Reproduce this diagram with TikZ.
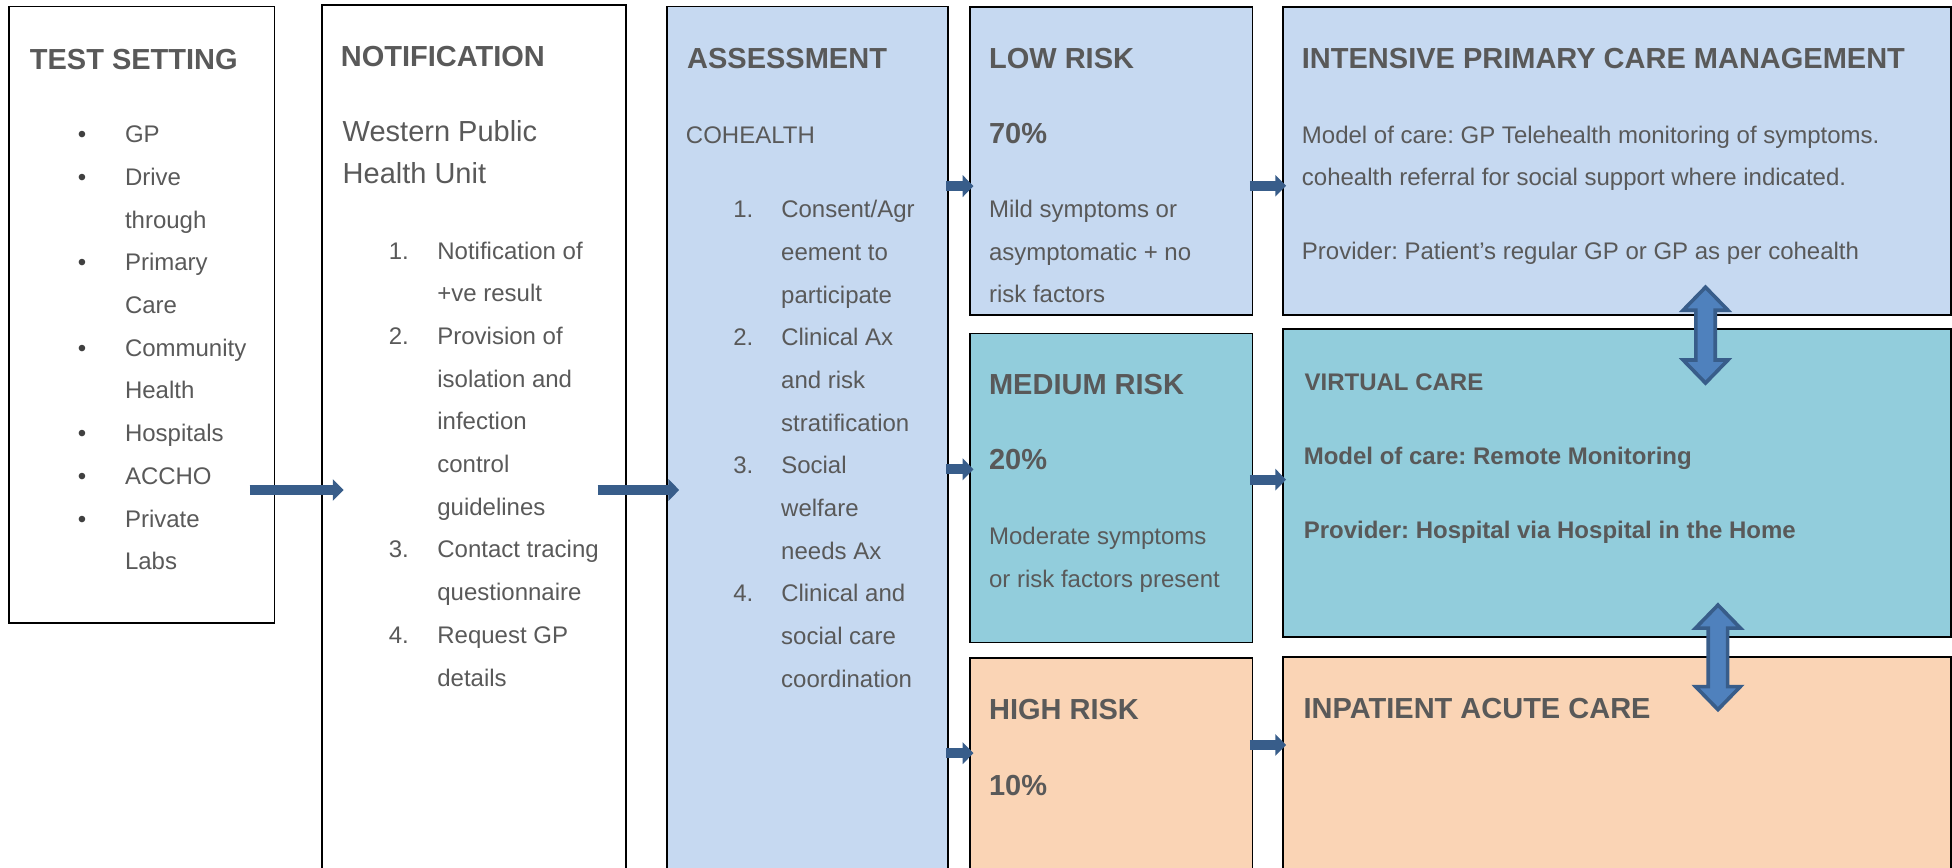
\documentclass[tikz,border=0pt]{standalone}
\usepackage{fontspec}
\setmainfont{Liberation Sans}
\usetikzlibrary{arrows.meta,fit}
\frenchspacing

\definecolor{paleblue}{HTML}{C6D9F1}
\definecolor{teal}{HTML}{92CDDC}
\definecolor{peach}{HTML}{FAD4B5}
\definecolor{txtgrey}{HTML}{595959}
\definecolor{bulletgrey}{HTML}{404040}
\definecolor{arrowblue}{HTML}{385D8A}
\definecolor{arrowfill}{HTML}{4F81BD}

% vertical two-way block arrow: #1 = x, #2 = y of centre, #3 = half length
\newcommand\DblBlock[3]{%
  \draw[dblarrow] (#1,#2-#3) -- (#1+18,#2-#3+18.5) -- (#1+7.8,#2-#3+18.5)
    -- (#1+7.8,#2+#3-18.5) -- (#1+18,#2+#3-18.5) -- (#1,#2+#3)
    -- (#1-18,#2+#3-18.5) -- (#1-7.8,#2+#3-18.5) -- (#1-7.8,#2-#3+18.5)
    -- (#1-18,#2-#3+18.5) -- cycle;}

\begin{document}
\begin{tikzpicture}[x=0.6225pt,y=-0.6225pt,
  box/.style={draw=black,line width=0.85pt,inner sep=0pt,outer sep=0pt},
  lbl/.style={anchor=base west,inner sep=0pt,outer sep=0pt,text=txtgrey},
  head/.style={lbl,font=\fontsize{14.5}{21.35}\selectfont\bfseries},
  body/.style={lbl,font=\fontsize{12}{21.35}\selectfont},
  bodybig/.style={lbl,font=\fontsize{14.5}{21.35}\selectfont},
  subhead/.style={lbl,font=\fontsize{12}{21.35}\selectfont\bfseries},
  flow/.style={draw=arrowblue,line width=5pt,-{Triangle[width=10.6pt,length=5.4pt]}},
  dblarrow/.style={draw=arrowblue,fill=arrowfill,line width=1.8pt,line join=miter}
]
\useasboundingbox (0,0) rectangle (1568,697);
\clip (0,0) rectangle (1568,697);

% ---- boxes ----
\node[box,fit={(7.5,5.3) (220.4,500.4)}] (ts) {};
\node[box,fit={(258.6,4) (503,720)}] (nt) {};
\node[box,fill=paleblue,fit={(535.5,5.3) (761.6,720)}] (as) {};
\node[box,fill=paleblue,fit={(779,5.4) (1006,253)}] (low) {};
\node[box,fill=teal,fit={(779,268) (1006,516)}] (med) {};
\node[box,fill=peach,fit={(779,528.7) (1006,720)}] (high) {};
\node[box,fill=paleblue,fit={(1030.5,5.4) (1567.3,253)}] (int) {};
\node[box,fill=teal,fit={(1030.5,264.3) (1567.3,511.8)}] (vir) {};
\node[box,fill=peach,fit={(1030.5,527.5) (1567.3,720)}] (inp) {};

% ---- test setting ----
\node[head] (tsh) at (24,55.6) {TEST SETTING};
\node[body] (tsl) at (62.5,114.7) {\begin{tabular}[t]{@{}p{23.6pt}@{}l@{}}
\textcolor{bulletgrey}{•}&GP\\
\textcolor{bulletgrey}{•}&Drive\\
&through\\
\textcolor{bulletgrey}{•}&Primary\\
&Care\\
\textcolor{bulletgrey}{•}&Community\\
&Health\\
\textcolor{bulletgrey}{•}&Hospitals\\
\textcolor{bulletgrey}{•}&ACCHO\\
\textcolor{bulletgrey}{•}&Private\\
&Labs
\end{tabular}};

% ---- notification ----
\node[head] (nth) at (273.8,53.4) {NOTIFICATION};
\node[bodybig] (ntu) at (275.3,113.4) {\begin{tabular}[t]{@{}l@{}}
Western Public\\ Health Unit\end{tabular}};
\node[body] (ntl) at (312.3,208.1) {\begin{tabular}[t]{@{}p{24.3pt}@{}l@{}}
1.&Notification of\\
&+ve result\\
2.&Provision of\\
&isolation and\\
&infection\\
&control\\
&guidelines\\
3.&Contact tracing\\
&questionnaire\\
4.&Request GP\\
&details
\end{tabular}};

% ---- assessment ----
\node[head] (ash) at (552,55.1) {ASSESSMENT};
\node[body] (asc) at (551,115.6) {COHEALTH};
\node[body] (asl) at (589,174.8) {\begin{tabular}[t]{@{}p{24pt}@{}l@{}}
1.&Consent/Agr\\
&eement to\\
&participate\\
2.&Clinical Ax\\
&and risk\\
&stratification\\
3.&Social\\
&welfare\\
&needs Ax\\
4.&Clinical and\\
&social care\\
&coordination
\end{tabular}};

% ---- risk groups ----
\node[head] (lowh) at (794.5,54.9) {LOW RISK};
\node[head] (lowp) at (794.5,115.1) {70\%};
\node[body] (lowt) at (794.5,174.6) {\begin{tabular}[t]{@{}l@{}}
Mild symptoms or\\ asymptomatic + no\\ risk factors\end{tabular}};

\node[head] (medh) at (794.5,317) {MEDIUM RISK};
\node[head] (medp) at (794.5,377.5) {20\%};
\node[body] (medt) at (794.5,437.6) {\begin{tabular}[t]{@{}l@{}}
Moderate symptoms\\ or risk factors present\end{tabular}};

\node[head] (highh) at (794.5,577.8) {HIGH RISK};
\node[head] (highp) at (794.5,638.6) {10\%};

% ---- care pathways ----
\node[head] (inth) at (1045.8,54.9) {INTENSIVE PRIMARY CARE MANAGEMENT};
\node[body] (intm) at (1045.8,115.1) {\begin{tabular}[t]{@{}l@{}}
Model of care: GP Telehealth monitoring of symptoms.\\
cohealth referral for social support where indicated.\end{tabular}};
\node[body] (intp) at (1045.8,208.3) {Provider: Patient’s regular GP or GP as per cohealth};

\node[subhead] (virh) at (1048,313.3) {VIRTUAL CARE};
\node[subhead] (virm) at (1047.3,373.5) {Model of care: Remote Monitoring};
\node[subhead] (virp) at (1047.3,432.4) {Provider: Hospital via Hospital in the Home};

\node[head] (inph) at (1047.2,577) {INPATIENT ACUTE CARE};

% ---- flow arrows ----
\draw[flow,shorten <=-12.39pt,shorten >=-10.83pt] (ts.east |- 0,393.6) -- (nt.west |- 0,393.6);
\draw[flow,shorten <=-14.32pt,shorten >=-6.29pt] (nt.east |- 0,393.6) -- (as.west |- 0,393.6);
\draw[flow,shorten <=-1pt,shorten >=-1.87pt] (as.east |- 0,149.5) -- (low.west |- 0,149.5);
\draw[flow,shorten <=-1pt,shorten >=-1.87pt] (as.east |- 0,377) -- (med.west |- 0,377);
\draw[flow,shorten <=-1pt,shorten >=-1.87pt] (as.east |- 0,605) -- (high.west |- 0,605);
\draw[flow,shorten <=-1.25pt,shorten >=-1.6pt] (low.east |- 0,149.2) -- (int.west |- 0,149.2);
\draw[flow,shorten <=-1.25pt,shorten >=-1.6pt] (med.east |- 0,385.3) -- (vir.west |- 0,385.3);
\draw[flow,shorten <=-1.25pt,shorten >=-1.6pt] (high.east |- 0,598.4) -- (inp.west |- 0,598.4);

% ---- two-way links between care levels ----
\DblBlock{1370}{269.2}{38.5}
\DblBlock{1380}{528}{42}
\end{tikzpicture}
\end{document}
